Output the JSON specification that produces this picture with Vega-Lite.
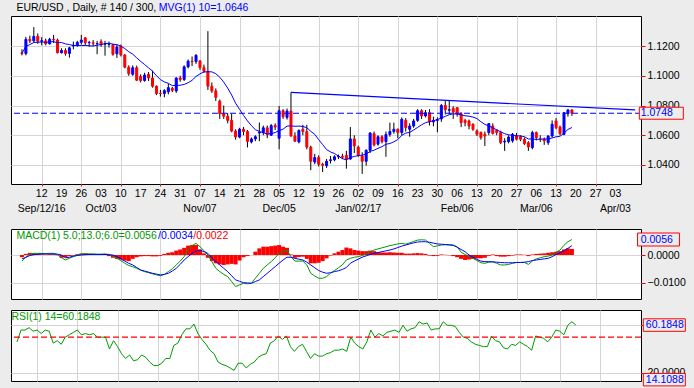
{
"$schema": "https://vega.github.io/schema/vega-lite/v6.json",
"background": "#ECECEC",
"padding": {"left": 9, "top": 2, "right": 10, "bottom": 10},
"autosize": {"type": "pad"},
"bounds": "flush",
"spacing": 11,
"config": {
  "font": "Liberation Sans",
  "view": {"stroke": "#000000", "strokeWidth": 1, "fill": "#FFFFFF"},
  "axis": {"domain": false, "gridColor": "#D4D4D4", "gridWidth": 1, "tickColor": "#FF0000", "labelColor": "#000000", "labelFontSize": 10.5, "labelFont": "Liberation Sans", "labelOverlap": false, "labelFlush": false, "labelBound": false}
},
"resolve": {"scale": {"x": "independent"}},
"datasets": {
  "one": [{"k": 1}],
  "last": [{"v": 1.0748}],
  "macdlast": [{"v": 0.0056}],
  "rsilast": [{"v": 60.1848}, {"v": 14.1088}],
  "trend": [{"i": 68, "v": 1.0888}, {"i": 155, "v": 1.0770}],
  "days": [{"i":5,"t":"12"},{"i":10,"t":"19"},{"i":15,"t":"26"},{"i":20,"t":"03"},{"i":25,"t":"10"},{"i":30,"t":"17"},{"i":35,"t":"24"},{"i":40,"t":"31"},{"i":45,"t":"07"},{"i":50,"t":"14"},{"i":55,"t":"21"},{"i":60,"t":"28"},{"i":65,"t":"05"},{"i":70,"t":"12"},{"i":75,"t":"19"},{"i":80,"t":"26"},{"i":85,"t":"02"},{"i":90,"t":"09"},{"i":95,"t":"16"},{"i":100,"t":"23"},{"i":105,"t":"30"},{"i":110,"t":"06"},{"i":115,"t":"13"},{"i":120,"t":"20"},{"i":125,"t":"27"},{"i":130,"t":"06"},{"i":135,"t":"13"},{"i":140,"t":"20"},{"i":145,"t":"27"},{"i":150,"t":"03"}],
  "months": [{"i": 5, "t": "Sep/12/16"}, {"i": 20, "t": "Oct/03"}, {"i": 45, "t": "Nov/07"}, {"i": 65, "t": "Dec/05"}, {"i": 85, "t": "Jan/02/17"}, {"i": 110, "t": "Feb/06"}, {"i": 130, "t": "Mar/06"}, {"i": 150, "t": "Apr/03"}],
  "bars": [
{"i":0,"o":1.1155,"h":1.1178,"l":1.1137,"c":1.1150,"m":-0.0022,"s":-0.0014,"d":-0.0008,"r":46},
{"i":1,"o":1.1150,"h":1.1262,"l":1.1137,"c":1.1245,"m":-0.0008,"s":-0.0008,"d":0.0004,"r":56},
{"i":2,"o":1.1245,"h":1.1270,"l":1.1220,"c":1.1235,"m":0.0004,"s":-0.0002,"d":0.0008,"r":56},
{"i":3,"o":1.1235,"h":1.1327,"l":1.1225,"c":1.1265,"m":0.0006,"s":0.0001,"d":0.0007,"r":58},
{"i":4,"o":1.1265,"h":1.1285,"l":1.1215,"c":1.1232,"m":0.0006,"s":0.0003,"d":0.0005,"r":55},
{"i":5,"o":1.1232,"h":1.1260,"l":1.1205,"c":1.1236,"m":0.0006,"s":0.0004,"d":0.0003,"r":56},
{"i":6,"o":1.1235,"h":1.1250,"l":1.1205,"c":1.1215,"m":0.0005,"s":0.0004,"d":0.0002,"r":53},
{"i":7,"o":1.1215,"h":1.1255,"l":1.1210,"c":1.1245,"m":0.0006,"s":0.0004,"d":0.0003,"r":56},
{"i":8,"o":1.1245,"h":1.1275,"l":1.1220,"c":1.1241,"m":0.0006,"s":0.0004,"d":0.0003,"r":55},
{"i":9,"o":1.1240,"h":1.1250,"l":1.1150,"c":1.1155,"m":0.0002,"s":0.0003,"d":-0.0001,"r":45},
{"i":10,"o":1.1155,"h":1.1185,"l":1.1150,"c":1.1170,"m":-0.0010,"s":0,"d":-0.0010,"r":47},
{"i":11,"o":1.1170,"h":1.1185,"l":1.1135,"c":1.1150,"m":-0.0018,"s":-0.0010,"d":-0.0008,"r":44},
{"i":12,"o":1.1150,"h":1.1195,"l":1.1122,"c":1.1188,"m":-0.0012,"s":-0.0008,"d":-0.0004,"r":50},
{"i":13,"o":1.1200,"h":1.1230,"l":1.1178,"c":1.1205,"m":-0.0006,"s":-0.0004,"d":-0.0002,"r":52},
{"i":14,"o":1.1205,"h":1.1235,"l":1.1195,"c":1.1225,"m":0,"s":-0.0002,"d":0.0003,"r":54},
{"i":15,"o":1.1225,"h":1.1275,"l":1.1210,"c":1.1240,"m":0.0004,"s":0,"d":0.0005,"r":56},
{"i":16,"o":1.1255,"h":1.1260,"l":1.1205,"c":1.1222,"m":0.0005,"s":0.0001,"d":0.0005,"r":52},
{"i":17,"o":1.1222,"h":1.1235,"l":1.1195,"c":1.1224,"m":0.0004,"s":0.0002,"d":0.0004,"r":53},
{"i":18,"o":1.1222,"h":1.1240,"l":1.1200,"c":1.1218,"m":0.0004,"s":0.0002,"d":0.0003,"r":52},
{"i":19,"o":1.1215,"h":1.1235,"l":1.1145,"c":1.1217,"m":0.0003,"s":0.0002,"d":0.0002,"r":53},
{"i":20,"o":1.1230,"h":1.1245,"l":1.1195,"c":1.1208,"m":0.0003,"s":0.0002,"d":0.0002,"r":50},
{"i":21,"o":1.1212,"h":1.1235,"l":1.1135,"c":1.1215,"m":0.0004,"s":0.0002,"d":0.0001,"r":50},
{"i":22,"o":1.1210,"h":1.1230,"l":1.1190,"c":1.1212,"m":0.0002,"s":0.0001,"d":-0.0004,"r":50},
{"i":23,"o":1.1207,"h":1.1215,"l":1.1135,"c":1.1144,"m":-0.0004,"s":0,"d":-0.0010,"r":40},
{"i":24,"o":1.1148,"h":1.1210,"l":1.1120,"c":1.1193,"m":-0.0012,"s":-0.0006,"d":-0.0014,"r":47},
{"i":25,"o":1.1200,"h":1.1210,"l":1.1130,"c":1.1140,"m":-0.0020,"s":-0.0014,"d":-0.0016,"r":42},
{"i":26,"o":1.1140,"h":1.1145,"l":1.1050,"c":1.1058,"m":-0.0030,"s":-0.0022,"d":-0.0020,"r":36},
{"i":27,"o":1.1058,"h":1.1070,"l":1.1000,"c":1.1014,"m":-0.0038,"s":-0.0030,"d":-0.0022,"r":32},
{"i":28,"o":1.1010,"h":1.1070,"l":1.1000,"c":1.1054,"m":-0.0042,"s":-0.0036,"d":-0.0014,"r":35},
{"i":29,"o":1.1054,"h":1.1068,"l":1.0965,"c":1.0970,"m":-0.0048,"s":-0.0045,"d":-0.0008,"r":30},
{"i":30,"o":1.0995,"h":1.1010,"l":1.0955,"c":1.0968,"m":-0.0055,"s":-0.0054,"d":-0.0005,"r":31},
{"i":31,"o":1.0968,"h":1.1020,"l":1.0960,"c":1.1005,"m":-0.0060,"s":-0.0058,"d":-0.0004,"r":35},
{"i":32,"o":1.1010,"h":1.1025,"l":1.0965,"c":1.0985,"m":-0.0064,"s":-0.0062,"d":-0.0004,"r":33},
{"i":33,"o":1.0985,"h":1.1035,"l":1.0920,"c":1.0930,"m":-0.0068,"s":-0.0066,"d":-0.0005,"r":29},
{"i":34,"o":1.0930,"h":1.0935,"l":1.0870,"c":1.0880,"m":-0.0072,"s":-0.0069,"d":-0.0005,"r":26},
{"i":35,"o":1.0882,"h":1.0905,"l":1.0860,"c":1.0880,"m":-0.0075,"s":-0.0072,"d":-0.0003,"r":26},
{"i":36,"o":1.0880,"h":1.0910,"l":1.0855,"c":1.0900,"m":-0.0070,"s":-0.0070,"d":0.0004,"r":28},
{"i":37,"o":1.0892,"h":1.0945,"l":1.0875,"c":1.0920,"m":-0.0060,"s":-0.0066,"d":0.0008,"r":32},
{"i":38,"o":1.0915,"h":1.0925,"l":1.0890,"c":1.0902,"m":-0.0050,"s":-0.0058,"d":0.0010,"r":32},
{"i":39,"o":1.0898,"h":1.0990,"l":1.0885,"c":1.0985,"m":-0.0036,"s":-0.0048,"d":0.0016,"r":43},
{"i":40,"o":1.0985,"h":1.1000,"l":1.0960,"c":1.0975,"m":-0.0022,"s":-0.0034,"d":0.0020,"r":45},
{"i":41,"o":1.0975,"h":1.1070,"l":1.0965,"c":1.1060,"m":-0.0006,"s":-0.0018,"d":0.0026,"r":52},
{"i":42,"o":1.1060,"h":1.1110,"l":1.1050,"c":1.1098,"m":0.0020,"s":-0.0006,"d":0.0034,"r":57},
{"i":43,"o":1.1098,"h":1.1130,"l":1.1065,"c":1.1095,"m":0.0034,"s":0.0006,"d":0.0036,"r":57},
{"i":44,"o":1.1095,"h":1.1145,"l":1.1080,"c":1.1138,"m":0.0042,"s":0.0014,"d":0.0036,"r":61},
{"i":45,"o":1.1100,"h":1.1105,"l":1.1040,"c":1.1055,"m":0.0030,"s":0.0018,"d":0.0020,"r":53},
{"i":46,"o":1.1055,"h":1.1075,"l":1.1020,"c":1.1030,"m":0.0016,"s":0.0012,"d":0.0006,"r":48},
{"i":47,"o":1.1030,"h":1.1300,"l":1.0905,"c":1.0930,"m":0,"s":0.0006,"d":-0.0010,"r":44},
{"i":48,"o":1.0930,"h":1.0955,"l":1.0885,"c":1.0898,"m":-0.0024,"s":-0.0010,"d":-0.0022,"r":39},
{"i":49,"o":1.0898,"h":1.0915,"l":1.0830,"c":1.0855,"m":-0.0048,"s":-0.0024,"d":-0.0030,"r":36},
{"i":50,"o":1.0830,"h":1.0840,"l":1.0710,"c":1.0745,"m":-0.0060,"s":-0.0036,"d":-0.0034,"r":29},
{"i":51,"o":1.0745,"h":1.0800,"l":1.0710,"c":1.0728,"m":-0.0070,"s":-0.0048,"d":-0.0036,"r":27},
{"i":52,"o":1.0728,"h":1.0750,"l":1.0680,"c":1.0700,"m":-0.0078,"s":-0.0060,"d":-0.0034,"r":26},
{"i":53,"o":1.0700,"h":1.0745,"l":1.0620,"c":1.0628,"m":-0.0096,"s":-0.0075,"d":-0.0032,"r":24},
{"i":54,"o":1.0628,"h":1.0640,"l":1.0570,"c":1.0588,"m":-0.0114,"s":-0.0090,"d":-0.0034,"r":22},
{"i":55,"o":1.0588,"h":1.0650,"l":1.0580,"c":1.0640,"m":-0.0108,"s":-0.0095,"d":-0.0020,"r":28},
{"i":56,"o":1.0640,"h":1.0655,"l":1.0600,"c":1.0625,"m":-0.0102,"s":-0.0100,"d":-0.0008,"r":28},
{"i":57,"o":1.0625,"h":1.0635,"l":1.0518,"c":1.0558,"m":-0.0104,"s":-0.0101,"d":-0.0004,"r":24},
{"i":58,"o":1.0555,"h":1.0585,"l":1.0545,"c":1.0575,"m":-0.0102,"s":-0.0102,"d":0,"r":27},
{"i":59,"o":1.0575,"h":1.0600,"l":1.0560,"c":1.0590,"m":-0.0084,"s":-0.0096,"d":0.0012,"r":29},
{"i":60,"o":1.0615,"h":1.0685,"l":1.0560,"c":1.0620,"m":-0.0066,"s":-0.0090,"d":0.0024,"r":33},
{"i":61,"o":1.0618,"h":1.0665,"l":1.0600,"c":1.0650,"m":-0.0048,"s":-0.0078,"d":0.0030,"r":35},
{"i":62,"o":1.0650,"h":1.0665,"l":1.0580,"c":1.0605,"m":-0.0036,"s":-0.0066,"d":0.0030,"r":36},
{"i":63,"o":1.0600,"h":1.0675,"l":1.0595,"c":1.0665,"m":-0.0024,"s":-0.0054,"d":0.0032,"r":45},
{"i":64,"o":1.0665,"h":1.0680,"l":1.0635,"c":1.0655,"m":-0.0010,"s":-0.0042,"d":0.0034,"r":47},
{"i":65,"o":1.0580,"h":1.0797,"l":1.0505,"c":1.0765,"m":0.0006,"s":-0.0030,"d":0.0036,"r":51},
{"i":66,"o":1.0765,"h":1.0775,"l":1.0710,"c":1.0725,"m":0.0012,"s":-0.0018,"d":0.0030,"r":48},
{"i":67,"o":1.0720,"h":1.0780,"l":1.0705,"c":1.0763,"m":0.0018,"s":-0.0008,"d":0.0026,"r":51},
{"i":68,"o":1.0763,"h":1.0888,"l":1.0590,"c":1.0595,"m":-0.0006,"s":-0.0008,"d":0.0002,"r":42},
{"i":69,"o":1.0595,"h":1.0620,"l":1.0555,"c":1.0560,"m":-0.0022,"s":-0.0012,"d":-0.0010,"r":38},
{"i":70,"o":1.0555,"h":1.0640,"l":1.0545,"c":1.0632,"m":-0.0022,"s":-0.0015,"d":-0.0007,"r":42},
{"i":71,"o":1.0640,"h":1.0670,"l":1.0600,"c":1.0625,"m":-0.0022,"s":-0.0018,"d":-0.0006,"r":44},
{"i":72,"o":1.0625,"h":1.0670,"l":1.0505,"c":1.0520,"m":-0.0036,"s":-0.0026,"d":-0.0014,"r":38},
{"i":73,"o":1.0520,"h":1.0530,"l":1.0365,"c":1.0425,"m":-0.0066,"s":-0.0036,"d":-0.0030,"r":32},
{"i":74,"o":1.0420,"h":1.0475,"l":1.0405,"c":1.0450,"m":-0.0076,"s":-0.0046,"d":-0.0030,"r":36},
{"i":75,"o":1.0450,"h":1.0465,"l":1.0390,"c":1.0405,"m":-0.0084,"s":-0.0056,"d":-0.0028,"r":34},
{"i":76,"o":1.0405,"h":1.0415,"l":1.0352,"c":1.0398,"m":-0.0084,"s":-0.0062,"d":-0.0022,"r":34},
{"i":77,"o":1.0395,"h":1.0440,"l":1.0380,"c":1.0425,"m":-0.0078,"s":-0.0066,"d":-0.0012,"r":36},
{"i":78,"o":1.0430,"h":1.0460,"l":1.0410,"c":1.0435,"m":-0.0066,"s":-0.0064,"d":-0.0002,"r":37},
{"i":79,"o":1.0435,"h":1.0465,"l":1.0425,"c":1.0455,"m":-0.0056,"s":-0.0060,"d":0.0006,"r":39},
{"i":80,"o":1.0455,"h":1.0470,"l":1.0440,"c":1.0458,"m":-0.0046,"s":-0.0057,"d":0.0012,"r":39},
{"i":81,"o":1.0458,"h":1.0475,"l":1.0440,"c":1.0452,"m":-0.0036,"s":-0.0052,"d":0.0018,"r":40},
{"i":82,"o":1.0465,"h":1.0495,"l":1.0375,"c":1.0440,"m":-0.0018,"s":-0.0045,"d":0.0027,"r":38},
{"i":83,"o":1.0440,"h":1.0655,"l":1.0435,"c":1.0575,"m":-0.0012,"s":-0.0030,"d":0.0024,"r":50},
{"i":84,"o":1.0575,"h":1.0600,"l":1.0480,"c":1.0528,"m":-0.0008,"s":-0.0022,"d":0.0018,"r":45},
{"i":85,"o":1.0520,"h":1.0530,"l":1.0455,"c":1.0465,"m":-0.0006,"s":-0.0015,"d":0.0016,"r":42},
{"i":86,"o":1.0460,"h":1.0485,"l":1.0340,"c":1.0425,"m":-0.0002,"s":-0.0008,"d":0.0014,"r":40},
{"i":87,"o":1.0425,"h":1.0505,"l":1.0395,"c":1.0499,"m":0.0004,"s":-0.0003,"d":0.0014,"r":46},
{"i":88,"o":1.0499,"h":1.0620,"l":1.0480,"c":1.0615,"m":0.0012,"s":0.0002,"d":0.0016,"r":56},
{"i":89,"o":1.0611,"h":1.0625,"l":1.0525,"c":1.0535,"m":0.0018,"s":0.0006,"d":0.0014,"r":50},
{"i":90,"o":1.0540,"h":1.0600,"l":1.0530,"c":1.0590,"m":0.0022,"s":0.0009,"d":0.0010,"r":53},
{"i":91,"o":1.0590,"h":1.0600,"l":1.0545,"c":1.0557,"m":0.0026,"s":0.0012,"d":0.0009,"r":51},
{"i":92,"o":1.0557,"h":1.0625,"l":1.0455,"c":1.0605,"m":0.0030,"s":0.0015,"d":0.0009,"r":54},
{"i":93,"o":1.0605,"h":1.0685,"l":1.0590,"c":1.0625,"m":0.0034,"s":0.0018,"d":0.0010,"r":55},
{"i":94,"o":1.0625,"h":1.0685,"l":1.0610,"c":1.0640,"m":0.0037,"s":0.0022,"d":0.0009,"r":56},
{"i":95,"o":1.0640,"h":1.0645,"l":1.0580,"c":1.0618,"m":0.0040,"s":0.0027,"d":0.0008,"r":54},
{"i":96,"o":1.0618,"h":1.0720,"l":1.0600,"c":1.0707,"m":0.0042,"s":0.0032,"d":0.0008,"r":60},
{"i":97,"o":1.0700,"h":1.0715,"l":1.0625,"c":1.0651,"m":0.0039,"s":0.0036,"d":0.0005,"r":55},
{"i":98,"o":1.0640,"h":1.0680,"l":1.0590,"c":1.0662,"m":0.0044,"s":0.0040,"d":0.0005,"r":57},
{"i":99,"o":1.0662,"h":1.0710,"l":1.0650,"c":1.0696,"m":0.0049,"s":0.0044,"d":0.0006,"r":58},
{"i":100,"o":1.0700,"h":1.0775,"l":1.0690,"c":1.0765,"m":0.0054,"s":0.0047,"d":0.0007,"r":63},
{"i":101,"o":1.0765,"h":1.0775,"l":1.0710,"c":1.0730,"m":0.0055,"s":0.0048,"d":0.0006,"r":61},
{"i":102,"o":1.0730,"h":1.0770,"l":1.0720,"c":1.0752,"m":0.0054,"s":0.0048,"d":0.0004,"r":62},
{"i":103,"o":1.0752,"h":1.0775,"l":1.0665,"c":1.0691,"m":0.0042,"s":0.0046,"d":-0.0002,"r":56},
{"i":104,"o":1.0690,"h":1.0725,"l":1.0660,"c":1.0700,"m":0.0030,"s":0.0043,"d":-0.0004,"r":57},
{"i":105,"o":1.0700,"h":1.0720,"l":1.0620,"c":1.0704,"m":0.0033,"s":0.0040,"d":-0.0003,"r":57},
{"i":106,"o":1.0710,"h":1.0810,"l":1.0690,"c":1.0800,"m":0.0036,"s":0.0039,"d":0.0002,"r":63},
{"i":107,"o":1.0800,"h":1.0830,"l":1.0740,"c":1.0772,"m":0.0037,"s":0.0038,"d":0.0001,"r":60},
{"i":108,"o":1.0768,"h":1.0830,"l":1.0740,"c":1.0772,"m":0.0036,"s":0.0037,"d":-0.0001,"r":60},
{"i":109,"o":1.0780,"h":1.0795,"l":1.0710,"c":1.0755,"m":0.0034,"s":0.0036,"d":-0.0004,"r":59},
{"i":110,"o":1.0785,"h":1.0790,"l":1.0725,"c":1.0745,"m":0.0030,"s":0.0028,"d":-0.0008,"r":54},
{"i":111,"o":1.0745,"h":1.0755,"l":1.0655,"c":1.0685,"m":0.0010,"s":0.0020,"d":-0.0014,"r":50},
{"i":112,"o":1.0700,"h":1.0710,"l":1.0660,"c":1.0685,"m":0.0002,"s":0.0012,"d":-0.0018,"r":49},
{"i":113,"o":1.0696,"h":1.0705,"l":1.0640,"c":1.0662,"m":-0.0005,"s":0,"d":-0.0016,"r":46},
{"i":114,"o":1.0674,"h":1.0680,"l":1.0630,"c":1.0640,"m":-0.0012,"s":-0.0008,"d":-0.0014,"r":44},
{"i":115,"o":1.0629,"h":1.0640,"l":1.0595,"c":1.0606,"m":-0.0020,"s":-0.0016,"d":-0.0012,"r":43},
{"i":116,"o":1.0618,"h":1.0625,"l":1.0570,"c":1.0584,"m":-0.0028,"s":-0.0022,"d":-0.0012,"r":42},
{"i":117,"o":1.0606,"h":1.0625,"l":1.0528,"c":1.0595,"m":-0.0030,"s":-0.0024,"d":-0.0010,"r":42},
{"i":118,"o":1.0618,"h":1.0680,"l":1.0600,"c":1.0678,"m":-0.0026,"s":-0.0024,"d":-0.0003,"r":51},
{"i":119,"o":1.0662,"h":1.0680,"l":1.0605,"c":1.0612,"m":-0.0024,"s":-0.0025,"d":0.0002,"r":47},
{"i":120,"o":1.0633,"h":1.0640,"l":1.0600,"c":1.0618,"m":-0.0030,"s":-0.0026,"d":-0.0004,"r":46},
{"i":121,"o":1.0618,"h":1.0630,"l":1.0540,"c":1.0550,"m":-0.0036,"s":-0.0027,"d":-0.0006,"r":41},
{"i":122,"o":1.0555,"h":1.0580,"l":1.0495,"c":1.0560,"m":-0.0036,"s":-0.0028,"d":-0.0006,"r":40},
{"i":123,"o":1.0557,"h":1.0600,"l":1.0545,"c":1.0588,"m":-0.0034,"s":-0.0028,"d":-0.0004,"r":44},
{"i":124,"o":1.0562,"h":1.0615,"l":1.0550,"c":1.0606,"m":-0.0030,"s":-0.0028,"d":-0.0002,"r":43},
{"i":125,"o":1.0595,"h":1.0615,"l":1.0565,"c":1.0573,"m":-0.0027,"s":-0.0027,"d":0.0002,"r":46},
{"i":126,"o":1.0590,"h":1.0600,"l":1.0560,"c":1.0573,"m":-0.0027,"s":-0.0027,"d":0.0002,"r":44},
{"i":127,"o":1.0573,"h":1.0585,"l":1.0535,"c":1.0544,"m":-0.0027,"s":-0.0026,"d":0.0001,"r":42},
{"i":128,"o":1.0550,"h":1.0560,"l":1.0495,"c":1.0521,"m":-0.0034,"s":-0.0024,"d":-0.0004,"r":39},
{"i":129,"o":1.0517,"h":1.0630,"l":1.0505,"c":1.0618,"m":-0.0022,"s":-0.0020,"d":0.0002,"r":51},
{"i":130,"o":1.0618,"h":1.0625,"l":1.0565,"c":1.0584,"m":-0.0014,"s":-0.0018,"d":0.0004,"r":50},
{"i":131,"o":1.0575,"h":1.0600,"l":1.0555,"c":1.0573,"m":-0.0010,"s":-0.0016,"d":0.0005,"r":49},
{"i":132,"o":1.0573,"h":1.0585,"l":1.0535,"c":1.0562,"m":-0.0006,"s":-0.0014,"d":0.0006,"r":46},
{"i":133,"o":1.0550,"h":1.0600,"l":1.0535,"c":1.0595,"m":-0.0004,"s":-0.0012,"d":0.0008,"r":50},
{"i":134,"o":1.0595,"h":1.0700,"l":1.0585,"c":1.0674,"m":0,"s":-0.0006,"d":0.0010,"r":56},
{"i":135,"o":1.0696,"h":1.0715,"l":1.0640,"c":1.0651,"m":0.0010,"s":0.0002,"d":0.0012,"r":55},
{"i":136,"o":1.0655,"h":1.0665,"l":1.0600,"c":1.0610,"m":0.0018,"s":0.0008,"d":0.0014,"r":52},
{"i":137,"o":1.0606,"h":1.0755,"l":1.0600,"c":1.0752,"m":0.0035,"s":0.0016,"d":0.0020,"r":60},
{"i":138,"o":1.0745,"h":1.0775,"l":1.0725,"c":1.0770,"m":0.0048,"s":0.0024,"d":0.0024,"r":63},
{"i":139,"o":1.0770,"h":1.0775,"l":1.0730,"c":1.0748,"m":0.0056,"s":0.0034,"d":0.0022,"r":60.1848}
  ]
},
"vconcat": [
{
  "width": 630, "height": 168,
  "data": {"name": "bars"},
  "layer": [
    {"mark": {"type": "rule", "color": "#000000", "strokeWidth": 1},
     "encoding": {
       "x": {"field": "i", "type": "quantitative", "scale": {"domain": [-1.5, 155.2], "nice": false, "zero": false},
             "axis": {"title": null, "values": [5,10,15,20,25,30,35,40,45,50,55,60,65,70,75,80,85,90,95,100,105,110,115,120,125,130,135,140,145,150], "tickSize": 2, "labels": false, "grid": true}},
       "y": {"field": "l", "type": "quantitative", "scale": {"domain": [1.0272, 1.1402], "nice": false, "zero": false},
             "axis": {"title": null, "orient": "right", "values": [1.04, 1.06, 1.08, 1.1, 1.12], "format": ".4f", "tickSize": 4, "labelPadding": 2, "labelOverlap": false, "grid": true}},
       "y2": {"field": "h"}
     }},
    {"mark": {"type": "bar", "width": 2, "strokeWidth": 1},
     "encoding": {
       "x": {"field": "i", "type": "quantitative"},
       "y": {"field": "o", "type": "quantitative"},
       "y2": {"field": "c"},
       "fill": {"condition": {"test": "datum.c >= datum.o", "value": "#0000FF"}, "value": "#FF0000"},
       "stroke": {"condition": {"test": "datum.c >= datum.o", "value": "#0000FF"}, "value": "#FF0000"}
     }},
    {"transform": [{"window": [{"op": "mean", "field": "c", "as": "ma"}], "frame": [-9, 0], "sort": [{"field": "i", "order": "ascending"}]}],
     "mark": {"type": "line", "color": "#0000FF", "strokeWidth": 1},
     "encoding": {"x": {"field": "i", "type": "quantitative"}, "y": {"field": "ma", "type": "quantitative"}}},
    {"data": {"name": "trend"},
     "mark": {"type": "line", "color": "#0000FF", "strokeWidth": 1.2},
     "encoding": {"x": {"field": "i", "type": "quantitative"}, "y": {"field": "v", "type": "quantitative"}}},
    {"data": {"name": "last"},
     "mark": {"type": "rule", "color": "#0000FF", "strokeWidth": 1.2, "strokeDash": [6, 3]},
     "encoding": {"y": {"field": "v", "type": "quantitative"}}},
    {"data": {"name": "last"},
     "mark": {"type": "point", "shape": "M-1,-0.2727H1V0.2727H-1Z", "size": 1936, "filled": true, "fill": "#ECECEC", "stroke": "#FF0000", "strokeWidth": 1, "opacity": 1, "fillOpacity": 1, "strokeOpacity": 1},
     "encoding": {"x": {"datum": 161.6}, "y": {"field": "v", "type": "quantitative"}}},
    {"data": {"name": "last"},
     "mark": {"type": "text", "align": "left", "baseline": "middle", "fontSize": 10.5, "color": "#0000FF"},
     "encoding": {"x": {"datum": 156.4}, "y": {"field": "v", "type": "quantitative"}, "text": {"field": "v", "type": "quantitative", "format": ".4f"}}},
    {"data": {"name": "days"},
     "mark": {"type": "text", "align": "center", "baseline": "middle", "fontSize": 10.5, "color": "#000000"},
     "encoding": {"x": {"field": "i", "type": "quantitative"}, "y": {"datum": 1.0205}, "text": {"field": "t", "type": "nominal"}}},
    {"data": {"name": "months"},
     "mark": {"type": "text", "align": "center", "baseline": "middle", "fontSize": 10.5, "color": "#000000"},
     "encoding": {"x": {"field": "i", "type": "quantitative"}, "y": {"datum": 1.0104}, "text": {"field": "t", "type": "nominal"}}},
    {"data": {"name": "one"},
     "mark": {"type": "text", "align": "left", "baseline": "middle", "fontSize": 10.5, "color": "#000000"},
     "encoding": {"x": {"datum": -1.4}, "y": {"datum": 1.1453}, "text": {"value": "EUR/USD , Daily, # 140 / 300, "}}},
    {"data": {"name": "one"},
     "mark": {"type": "text", "align": "left", "baseline": "middle", "fontSize": 10.5, "color": "#0000FF"},
     "encoding": {"x": {"datum": 34.6}, "y": {"datum": 1.1453}, "text": {"value": "MVG(1) 10=1.0646"}}}
  ]
},
{
  "width": 630, "height": 22.3,
  "view": {"stroke": "transparent", "fill": "transparent"},
  "data": {"name": "one"},
  "mark": {"type": "point", "opacity": 0},
  "encoding": {}
},
{
  "width": 630, "height": 70,
  "data": {"name": "bars"},
  "layer": [
    {"mark": {"type": "bar", "width": 4, "color": "#FF0000"},
     "encoding": {
       "x": {"field": "i", "type": "quantitative", "scale": {"domain": [-1.5, 155.2], "nice": false, "zero": false},
             "axis": {"title": null, "values": [5,10,15,20,25,30,35,40,45,50,55,60,65,70,75,80,85,90,95,100,105,110,115,120,125,130,135,140,145,150], "labels": false, "ticks": false, "grid": true}},
       "y": {"field": "d", "type": "quantitative", "scale": {"domain": [-0.0159, 0.0094], "nice": false, "zero": false},
             "axis": {"title": null, "orient": "right", "values": [-0.01, 0], "format": ".4f", "tickSize": 4, "labelPadding": 2, "labelOverlap": false, "grid": true}},
       "y2": {"datum": 0}
     }},
    {"mark": {"type": "line", "color": "#009900", "strokeWidth": 1},
     "encoding": {"x": {"field": "i", "type": "quantitative"}, "y": {"field": "m", "type": "quantitative"}}},
    {"mark": {"type": "line", "color": "#0000FF", "strokeWidth": 1},
     "encoding": {"x": {"field": "i", "type": "quantitative"}, "y": {"field": "s", "type": "quantitative"}}},
    {"data": {"name": "macdlast"},
     "mark": {"type": "point", "shape": "M-1,-0.3095H1V0.3095H-1Z", "size": 1764, "filled": true, "fill": "#ECECEC", "stroke": "#FF0000", "strokeWidth": 1, "opacity": 1, "fillOpacity": 1, "strokeOpacity": 1},
     "encoding": {"x": {"datum": 160.9}, "y": {"field": "v", "type": "quantitative"}}},
    {"data": {"name": "macdlast"},
     "mark": {"type": "text", "align": "left", "baseline": "middle", "fontSize": 10.5, "color": "#0000FF"},
     "encoding": {"x": {"datum": 156.4}, "y": {"field": "v", "type": "quantitative"}, "text": {"field": "v", "type": "quantitative", "format": ".4f"}}},
    {"data": {"name": "one"},
     "mark": {"type": "text", "align": "left", "baseline": "middle", "fontSize": 10.5, "color": "#009900"},
     "encoding": {"x": {"datum": -1.4}, "y": {"datum": 0.007}, "text": {"value": "MACD(1) 5.0;13.0;6.0=0.0056"}}},
    {"data": {"name": "one"},
     "mark": {"type": "text", "align": "left", "baseline": "middle", "fontSize": 10.5, "color": "#0000FF"},
     "encoding": {"x": {"datum": 34.4}, "y": {"datum": 0.007}, "text": {"value": "/0.0034"}}},
    {"data": {"name": "one"},
     "mark": {"type": "text", "align": "left", "baseline": "middle", "fontSize": 10.5, "color": "#FF0000"},
     "encoding": {"x": {"datum": 43.3}, "y": {"datum": 0.007}, "text": {"value": "/0.0022"}}}
  ]
},
{
  "width": 630, "height": 71,
  "data": {"name": "bars"},
  "layer": [
    {"mark": {"type": "line", "color": "#009900", "strokeWidth": 1},
     "encoding": {
       "x": {"field": "i", "type": "quantitative", "scale": {"domain": [-1.5, 155.2], "nice": false, "zero": false},
             "axis": {"title": null, "values": [5,10,15,20,25,30,35,40,45,50,55,60,65,70,75,80,85,90,95,100,105,110,115,120,125,130,135,140,145,150], "labels": false, "ticks": false, "grid": true}},
       "y": {"field": "r", "type": "quantitative", "scale": {"domain": [13, 72.9], "nice": false, "zero": false},
             "axis": {"title": null, "orient": "right", "values": [20, 40, 60], "labelExpr": "datum.value == 60 ? '' : format(datum.value, '.4f')", "tickSize": 4, "labelPadding": 2, "labelOverlap": false, "grid": true}}
     }},
    {"data": {"name": "one"},
     "mark": {"type": "rule", "color": "#FF0000", "strokeWidth": 1.2, "strokeDash": [6, 3]},
     "encoding": {"y": {"datum": 50}}},
    {"data": {"name": "rsilast"},
     "mark": {"type": "point", "shape": "M-1,-0.2976H1V0.2976H-1Z", "size": 1764, "filled": true, "fill": "#ECECEC", "stroke": "#FF0000", "strokeWidth": 1, "opacity": 1, "fillOpacity": 1, "strokeOpacity": 1},
     "encoding": {"x": {"datum": 161.0}, "y": {"field": "v", "type": "quantitative"}}},
    {"data": {"name": "rsilast"},
     "mark": {"type": "text", "align": "left", "baseline": "middle", "fontSize": 10.5, "color": "#0000FF"},
     "encoding": {"x": {"datum": 156.4}, "y": {"field": "v", "type": "quantitative"}, "text": {"field": "v", "type": "quantitative", "format": ".4f"}}},
    {"data": {"name": "one"},
     "mark": {"type": "text", "align": "left", "baseline": "middle", "fontSize": 10.5, "color": "#009900"},
     "encoding": {"x": {"datum": -1.4}, "y": {"datum": 67.3}, "text": {"value": "RSI(1) 14=60.1848"}}}
  ]
}
]
}
